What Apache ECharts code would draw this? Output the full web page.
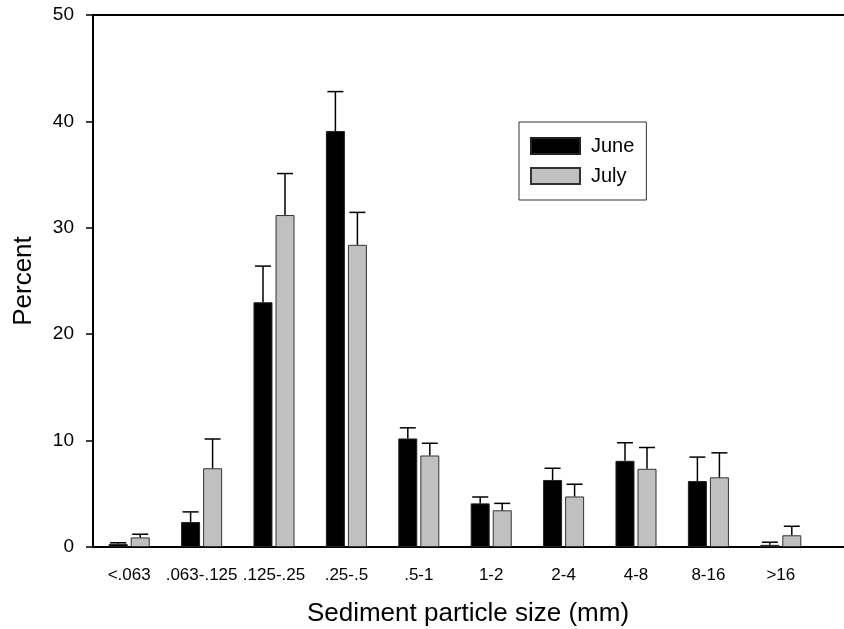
<!DOCTYPE html>
<html>
<head>
<meta charset="utf-8">
<script src="https://cdn.jsdelivr.net/npm/echarts@6/dist/echarts.min.js"></script>
<style>
  html, body { margin: 0; padding: 0; background: #fff; }
  #chart { width: 844px; height: 629px; }
</style>
</head>
<body>
<div id="chart"></div>
<script>
// sediment size classes
const categories = ['<.063', '.063-.125', '.125-.25', '.25-.5', '.5-1', '1-2', '2-4', '4-8', '8-16', '>16'];
const juneValues = [0.3, 2.35, 23.0, 39.1, 10.2, 4.1, 6.3, 8.1, 6.2, 0.2];
const juneErrors = [0.1, 0.95, 3.4, 3.7, 1.0, 0.6, 1.1, 1.7, 2.25, 0.25];
const julyValues = [0.9, 7.4, 31.2, 28.4, 8.6, 3.45, 4.75, 7.35, 6.55, 1.1];
const julyErrors = [0.3, 2.75, 3.9, 3.05, 1.15, 0.65, 1.15, 2.0, 2.3, 0.85];
const yTicks = [0, 10, 20, 30, 40, 50];

const BAR_W = 19;
const OFFSET = 11;
const FONT = 'Liberation Sans, Arial, sans-serif';

const chart = echarts.init(document.getElementById('chart'));

function errorBar(values, errors, dx) {
  return {
    type: 'custom',
    z: 5,
    silent: true,
    data: values.map((v, i) => [i, v, v + errors[i]]),
    renderItem: (params, api) => {
      const base = api.coord([api.value(0), api.value(1)]);
      const top = api.coord([api.value(0), api.value(2)]);
      const x = base[0] + dx;
      return {
        type: 'group',
        children: [
          { type: 'line', shape: { x1: x, y1: base[1], x2: x, y2: top[1] }, style: { stroke: '#000', lineWidth: 1.5 } },
          { type: 'line', shape: { x1: x - 8, y1: top[1], x2: x + 8, y2: top[1] }, style: { stroke: '#000', lineWidth: 1.5 } }
        ]
      };
    }
  };
}

// frame lines that run on past the last class to the right edge
function frameAxis(position) {
  return {
    type: 'value',
    gridIndex: 1,
    position,
    min: 0,
    max: 1,
    axisLine: { show: true, lineStyle: { color: '#000', width: 2 } },
    axisTick: { show: false },
    axisLabel: { show: false },
    splitLine: { show: false }
  };
}

const option = {
  animation: false,
  backgroundColor: '#fff',
  textStyle: { fontFamily: FONT, color: '#000' },
  title: {
    text: 'Sediment particle size (mm)',
    left: 463,
    top: 596,
    textAlign: 'center',
    textStyle: { fontFamily: FONT, fontSize: 26, fontWeight: 'normal', color: '#000' }
  },
  legend: {
    orient: 'vertical',
    left: 519,
    top: 122,
    padding: [14, 12, 14, 11],
    itemWidth: 49,
    itemHeight: 16,
    itemGap: 10,
    icon: 'rect',
    borderColor: '#333',
    borderWidth: 1,
    textStyle: { fontFamily: FONT, fontSize: 20, lineHeight: 16, color: '#000', padding: [0, 0, 0, 6] },
    data: ['June', 'July']
  },
  grid: [
    { left: 93, top: 15, right: 27, bottom: 82 },
    { left: 93, top: 15, right: 0, bottom: 82 }
  ],
  xAxis: [
    {
      type: 'category',
      data: categories,
      axisLine: { lineStyle: { color: '#000', width: 2 } },
      axisTick: { alignWithLabel: true, length: 7, lineStyle: { color: '#000', width: 1.5 } },
      axisLabel: { interval: 0, fontSize: 17, color: '#000', margin: 20, fontFamily: FONT }
    },
    frameAxis('bottom'),
    frameAxis('top')
  ],
  yAxis: [
    {
      type: 'value',
      min: yTicks[0],
      max: yTicks[yTicks.length - 1],
      interval: 10,
      name: 'Percent',
      nameLocation: 'middle',
      nameGap: 56,
      nameTextStyle: { fontSize: 26, color: '#000', fontFamily: FONT },
      axisLine: { show: true, lineStyle: { color: '#000', width: 2 } },
      axisTick: { show: true, length: 7, lineStyle: { color: '#000', width: 1.5 } },
      axisLabel: { fontSize: 19, color: '#000', margin: 19, fontFamily: FONT },
      splitLine: { show: false }
    },
    { type: 'value', gridIndex: 1, show: false }
  ],
  series: [
    {
      name: 'June',
      type: 'bar',
      barWidth: BAR_W,
      barGap: '16%',
      itemStyle: { color: '#000', borderColor: '#222', borderWidth: 1 },
      data: juneValues
    },
    {
      name: 'July',
      type: 'bar',
      barWidth: BAR_W,
      itemStyle: { color: '#c0c0c0', borderColor: '#333', borderWidth: 1 },
      data: julyValues
    },
    errorBar(juneValues, juneErrors, -OFFSET),
    errorBar(julyValues, julyErrors, OFFSET)
  ]
};

chart.setOption(option);
</script>
</body>
</html>
